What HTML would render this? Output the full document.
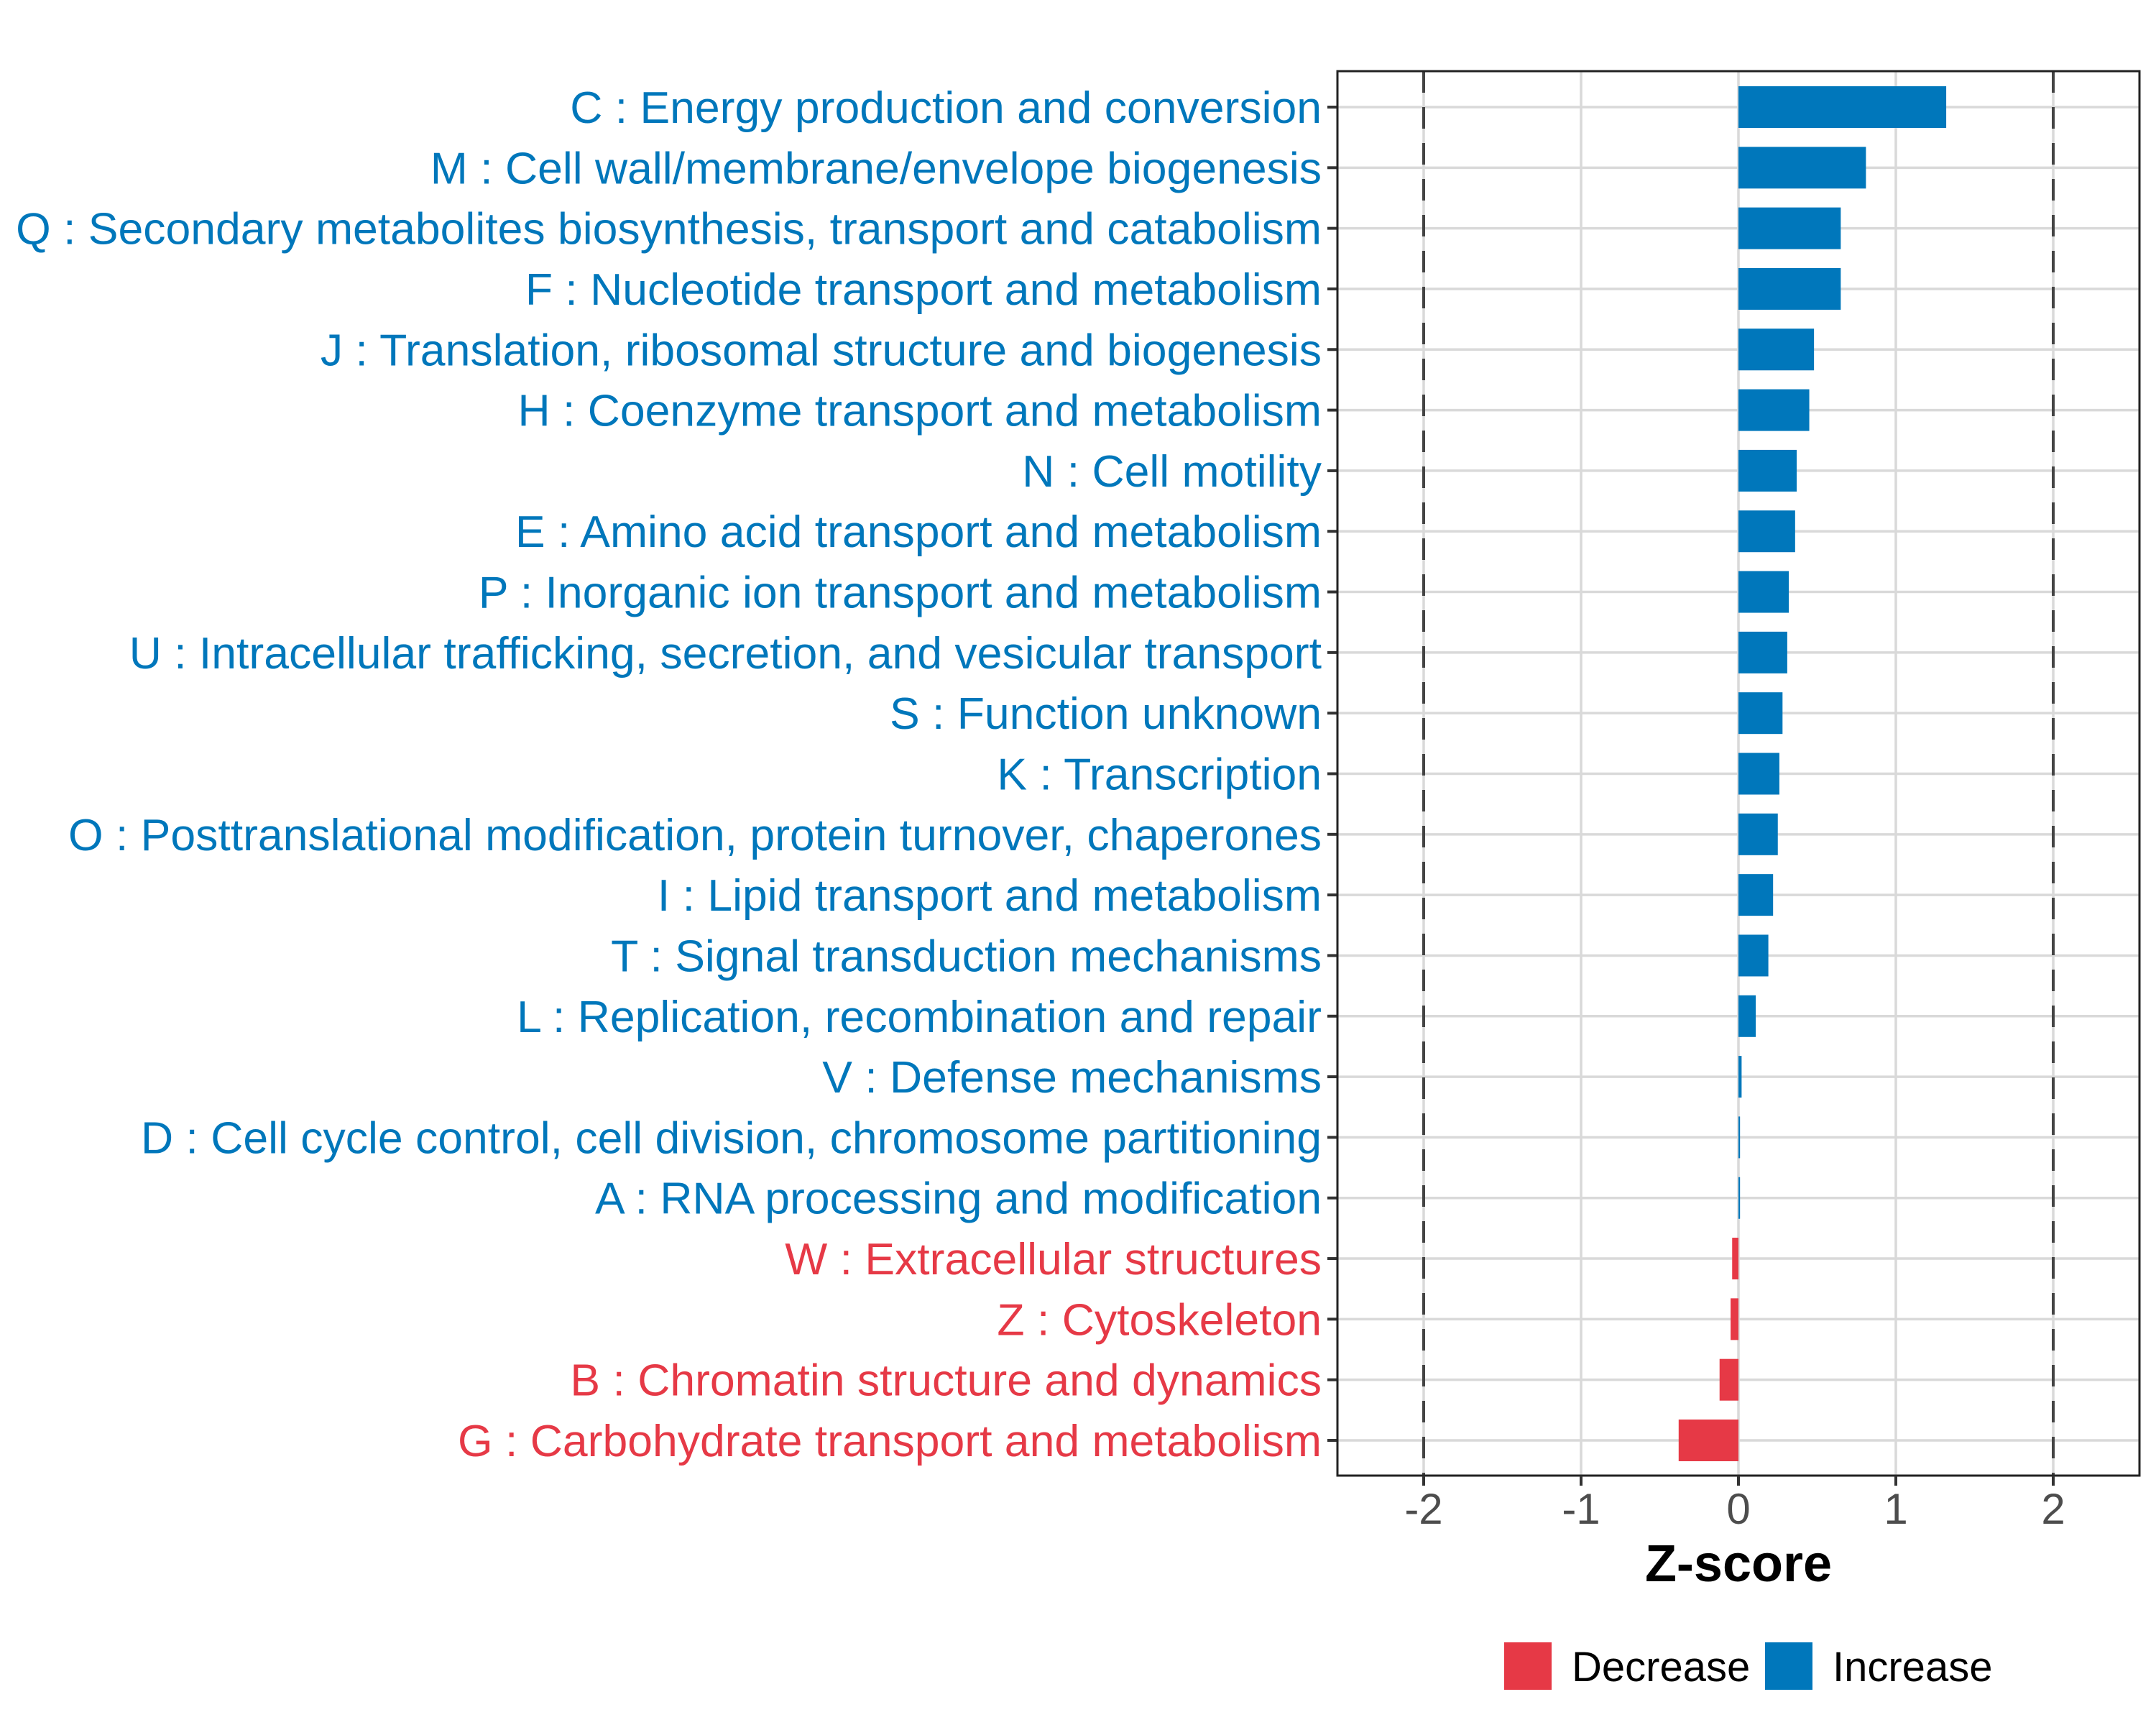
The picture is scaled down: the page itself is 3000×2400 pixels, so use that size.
<!DOCTYPE html>
<html><head><meta charset="utf-8"><style>
html,body{margin:0;padding:0;background:#fff;}
svg{display:block;font-family:"Liberation Sans",Arial,sans-serif;}
</style></head><body>
<svg id="chart" width="3000" height="2400" viewBox="0 0 3000 2400"></svg>
<script>
const categories = [
"C : Energy production and conversion",
"M : Cell wall/membrane/envelope biogenesis",
"Q : Secondary metabolites biosynthesis, transport and catabolism",
"F : Nucleotide transport and metabolism",
"J : Translation, ribosomal structure and biogenesis",
"H : Coenzyme transport and metabolism",
"N : Cell motility",
"E : Amino acid transport and metabolism",
"P : Inorganic ion transport and metabolism",
"U : Intracellular trafficking, secretion, and vesicular transport",
"S : Function unknown",
"K : Transcription",
"O : Posttranslational modification, protein turnover, chaperones",
"I : Lipid transport and metabolism",
"T : Signal transduction mechanisms",
"L : Replication, recombination and repair",
"V : Defense mechanisms",
"D : Cell cycle control, cell division, chromosome partitioning",
"A : RNA processing and modification",
"W : Extracellular structures",
"Z : Cytoskeleton",
"B : Chromatin structure and dynamics",
"G : Carbohydrate transport and metabolism"];
const zscores = [1.32,0.81,0.65,0.65,0.48,0.45,0.37,0.36,0.32,0.31,0.28,0.26,0.25,0.22,0.19,0.11,0.02,0.01,0.01,-0.04,-0.05,-0.12,-0.38];
const xTicks = [-2,-1,0,1,2];
const xTickLabels = ["-2","-1","0","1","2"];
const thresholds = [-2,2];

const NS="http://www.w3.org/2000/svg";
const svg=document.getElementById('chart');
const P={l:1861,r:2977,t:99,b:2053};
const BLUE="#0077BB", RED="#E63946";
function xs(v){return 2419+v*219;}
function ys(i){return 149+i*(2004-149)/(categories.length-1);}
function mk(tag,attrs,parent){const e=document.createElementNS(NS,tag);for(const k in attrs)e.setAttribute(k,attrs[k]);(parent||svg).appendChild(e);return e;}

const panel=mk('rect',{x:P.l,y:P.t,width:P.r-P.l,height:P.b-P.t,fill:'#fff'});



xTicks.forEach((t,k)=>{
  const g=mk('line',{x1:xs(t),x2:xs(t),y1:P.t,y2:P.b,stroke:'#d9d9d9','stroke-width':3.5});
  
  
});
categories.forEach((c,i)=>{
  const g=mk('line',{x1:P.l,x2:P.r,y1:ys(i),y2:ys(i),stroke:'#d9d9d9','stroke-width':3.5});
  
  
});
thresholds.forEach(t=>{
  const d=mk('line',{x1:xs(t),x2:xs(t),y1:P.t,y2:P.b,stroke:'#444','stroke-width':4,'stroke-dasharray':'30,20'});
  
  
});
categories.forEach((c,i)=>{
  const v=zscores[i];
  const x0=Math.min(xs(0),xs(v)), w=Math.abs(xs(v)-xs(0));
  const b=mk('rect',{x:x0,y:ys(i)-29,width:Math.max(w,1.5),height:58,fill:v<0?RED:BLUE});
  
  
  const tk=mk('line',{x1:P.l-14,x2:P.l,y1:ys(i),y2:ys(i),stroke:'#333','stroke-width':4});
  
  
  const tx=mk('text',{x:P.l-22,y:ys(i)+22,'text-anchor':'end','font-size':62.5,fill:v<0?RED:BLUE});
  tx.textContent=c;
  
  
});
const border=mk('rect',{x:P.l,y:P.t,width:P.r-P.l,height:P.b-P.t,fill:'none',stroke:'#222','stroke-width':3});


xTicks.forEach((t,k)=>{
  const tk=mk('line',{x1:xs(t),x2:xs(t),y1:P.b,y2:P.b+14,stroke:'#333','stroke-width':4});
  
  
  const tl=mk('text',{x:xs(t),y:2120,'text-anchor':'middle','font-size':60,fill:'#4d4d4d'});
  tl.textContent=xTickLabels[k];
  
  
});
const xt=mk('text',{x:2419,y:2200,'text-anchor':'middle','font-size':72,'font-weight':'bold',fill:'#000'});
xt.textContent='Z-score';



const legend=mk('g',{});


const k1=mk('rect',{x:2093,y:2285,width:66,height:66,fill:RED},legend);


const t1=mk('text',{x:2187,y:2339,'font-size':58,fill:'#000'},legend);
t1.textContent='Decrease';


const k2=mk('rect',{x:2456,y:2285,width:66,height:66,fill:BLUE},legend);


const t2=mk('text',{x:2550,y:2339,'font-size':58,fill:'#000'},legend);
t2.textContent='Increase';


</script>
</body></html>
